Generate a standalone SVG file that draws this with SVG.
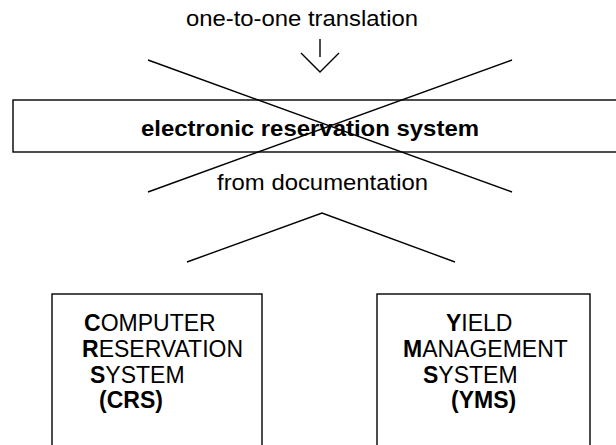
<svg xmlns="http://www.w3.org/2000/svg" width="616" height="445" viewBox="0 0 616 445">
  <style>
    .ln { stroke: #000; stroke-width: 1.4; fill: none; }
    .box { stroke: #000; stroke-width: 1.4; fill: #fff; }
    text { font-family: "Liberation Sans", Arial, sans-serif; font-size: 23px; fill: #000; }
    .wide { font-size: 22px; }
    .b { font-weight: bold; }
  </style>
  <rect width="616" height="445" fill="#fff"/>

  <g id="label-top">
    <text class="wide" x="186" y="26" textLength="232" lengthAdjust="spacingAndGlyphs">one-to-one translation</text>
  </g>

  <g id="central-system">
    <rect class="box" x="13" y="100" width="620" height="52"/>
    <text class="wide b" x="141" y="136" textLength="338" lengthAdjust="spacingAndGlyphs">electronic reservation system</text>
  </g>

  <g id="label-bottom">
    <text class="wide" x="217" y="190" textLength="211" lengthAdjust="spacingAndGlyphs">from documentation</text>
  </g>

  <g id="crs">
    <rect class="box" x="52" y="294" width="210" height="170"/>
    <text x="84" y="331"><tspan class="b">C</tspan>OMPUTER</text>
    <text x="82" y="357"><tspan class="b">R</tspan>ESERVATION</text>
    <text x="90" y="383"><tspan class="b">S</tspan>YSTEM</text>
    <text class="b" x="99" y="408">(CRS)</text>
  </g>

  <g id="yms">
    <rect class="box" x="377" y="294" width="213" height="170"/>
    <text x="446" y="331"><tspan class="b">Y</tspan>IELD</text>
    <text x="403" y="357"><tspan class="b">M</tspan>ANAGEMENT</text>
    <text x="423" y="383"><tspan class="b">S</tspan>YSTEM</text>
    <text class="b" x="451" y="408">(YMS)</text>
  </g>

  <g id="connectors">
    <!-- arrow below the top label -->
    <line class="ln" x1="320" y1="39" x2="320" y2="57"/>
    <polyline class="ln" points="301,53 320,72 339,53"/>
    <!-- cross over the central system -->
    <line class="ln" x1="148" y1="60" x2="512" y2="192"/>
    <line class="ln" x1="148" y1="192" x2="512" y2="60"/>
    <!-- roof splitting into the two subsystems -->
    <polyline class="ln" points="187,262 322,213 455,262"/>
  </g>
</svg>
